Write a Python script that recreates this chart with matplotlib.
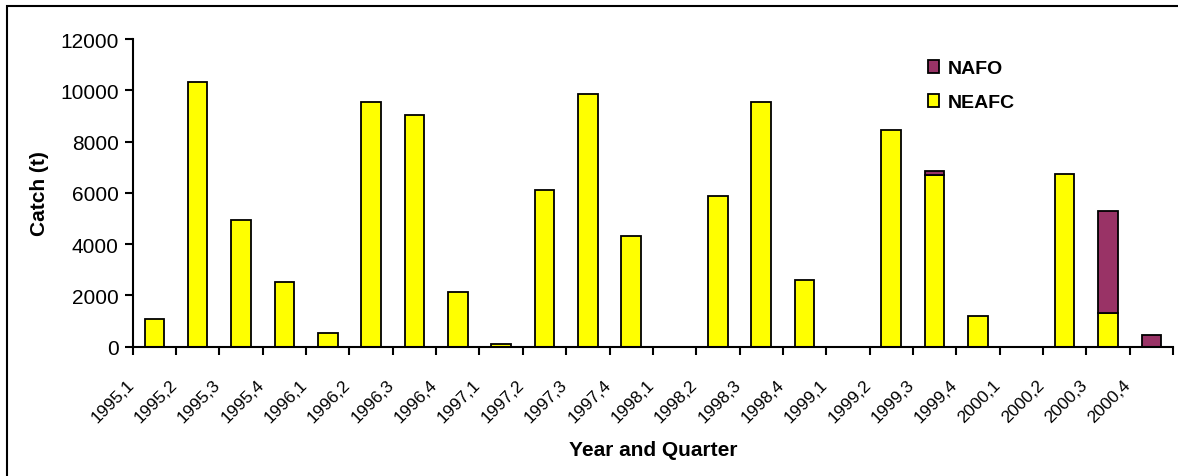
import matplotlib

matplotlib.use("Agg")
import matplotlib.pyplot as plt
from matplotlib.patches import Rectangle
import numpy as np

plt.rcParams["font.family"] = ["Liberation Sans", "DejaVu Sans"]

# ── data ──
quarters = [
    "1995,1", "1995,2", "1995,3", "1995,4",
    "1996,1", "1996,2", "1996,3", "1996,4",
    "1997,1", "1997,2", "1997,3", "1997,4",
    "1998,1", "1998,2", "1998,3", "1998,4",
    "1999,1", "1999,2", "1999,3", "1999,4",
    "2000,1", "2000,2", "2000,3", "2000,4",
]
neafc = [
    1070, 10320, 4940, 2520,
    520, 9540, 9020, 2130,
    120, 6130, 9870, 4310,
    0, 5890, 9550, 2610,
    0, 8470, 6680, 1210,
    0, 6750, 1300, 0,
]
nafo = [
    0, 0, 0, 0,
    0, 0, 0, 0,
    0, 0, 0, 0,
    0, 0, 0, 0,
    0, 0, 170, 0,
    0, 0, 3990, 450,
]
yticks = [0, 2000, 4000, 6000, 8000, 10000, 12000]

YELLOW = "#FFFF00"
MAROON = "#993366"

W, H = 1178, 477
fig = plt.figure(figsize=(W / 100, H / 100), dpi=100)
ax = fig.add_axes([132.7 / W, 1 - 347.7 / H, (1173 - 132.7) / W, (347.7 - 40) / H])

# outer chart-area frame
fig.patches.append(
    Rectangle((6.7 / W, -0.2), 1.2, 1.2 - 7.3 / H, transform=fig.transFigure,
              fill=False, edgecolor="black", linewidth=1.5)
)

x = np.arange(len(quarters)) + 0.5
neafc_arr = np.array(neafc)
nafo_arr = np.array(nafo)
kw = dict(width=0.45, edgecolor="black", linewidth=1.3)
# skip zero-height segments so no stray outlines are drawn
m1 = neafc_arr > 0
b1 = ax.bar(x[m1], neafc_arr[m1], color=YELLOW, label="NEAFC", **kw)
m2 = nafo_arr > 0
b2 = ax.bar(x[m2], nafo_arr[m2], bottom=neafc_arr[m2], color=MAROON, label="NAFO", **kw)

ax.set_xlim(0, len(quarters))
ax.set_ylim(0, 12000)
ax.set_yticks(yticks)
ax.set_yticklabels([str(v) for v in yticks], fontsize=15)
ax.set_xticks(np.arange(len(quarters) + 1))
ax.set_xticklabels([])
ax.tick_params(axis="both", direction="out", length=6, width=1.5, color="black")
ax.tick_params(axis="y", pad=4)

for s in ("top", "right"):
    ax.spines[s].set_visible(False)
for s in ("left", "bottom"):
    ax.spines[s].set_linewidth(1.5)

# rotated category labels, right end at each category's left tick
trans = ax.get_xaxis_transform()
for i, lab in enumerate(quarters):
    ax.text(i - 0.03, -35 / 307.7, lab, transform=trans, rotation=45,
            ha="right", va="center", rotation_mode="anchor", fontsize=12.5)

ax.set_ylabel("Catch (t)", fontsize=15, fontweight="bold", labelpad=8)
ax.text(0.5, (347.7 - 451) / 307.7, "Year and Quarter", transform=ax.transAxes,
        ha="center", va="center", fontsize=15, fontweight="bold")

ax.legend(handles=[b2, b1], loc="upper left", bbox_to_anchor=(928 / W, 1 - 61 / H),
          bbox_transform=fig.transFigure, frameon=False,
          prop={"weight": "bold", "size": 14}, handlelength=0.57, handleheight=0.65,
          handletextpad=0.45, labelspacing=0.85, borderaxespad=0, borderpad=0)

fig.savefig("out.png", dpi=100)
